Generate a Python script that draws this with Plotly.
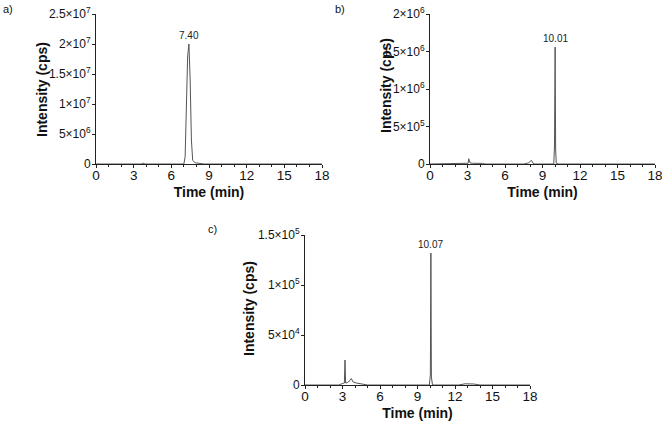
import plotly.graph_objects as go

# ---------------- data ----------------
# panel a
time_a = [0, 3.0, 3.6, 3.75, 3.9, 4.2, 7.0, 7.1, 7.2, 7.3, 7.4, 7.5, 7.6, 7.7, 7.9, 8.3, 8.6, 18]
int_a = [0, 0, 0, 1.5e5, 0, 0, 0, 1.2e6, 9.0e6, 1.8e7, 2.0e7, 1.4e7, 4.0e6, 6.0e5, 2.0e5, 1.0e5, 0, 0]
peak_a = (7.40, 2.0e7, "7.40")

# panel b
time_b = [0, 2.9, 3.05, 3.1, 3.2, 3.4, 3.8, 4.2, 4.4, 7.5, 7.9, 8.1, 8.3, 8.9, 9.05, 9.2, 9.9, 9.96, 10.01, 10.05, 10.1, 10.3, 18]
int_b = [0, 0, 1.0e4, 7.0e4, 1.5e4, 1.0e4, 1.2e4, 8.0e3, 0, 0, 1.5e4, 5.0e4, 0, 0, 1.0e4, 0, 0, 2.4e5, 1.56e6, 2.0e5, 1.0e4, 0, 0]
peak_b = (10.01, 1.56e6, "10.01")

# panel c
time_c = [0, 2.7, 3.0, 3.15, 3.2, 3.25, 3.4, 3.6, 3.7, 3.85, 4.1, 4.6, 5.0, 9.95, 10.03, 10.07, 10.11, 10.2, 12.3, 12.8, 13.5, 14.0, 18]
int_c = [0, 0, 1.5e3, 2.0e3, 2.5e4, 2.0e3, 2.5e3, 4.5e3, 6.5e3, 3.0e3, 2.0e3, 1.0e3, 0, 0, 1.0e4, 1.32e5, 8.0e3, 0, 0, 1.2e3, 1.0e3, 0, 0]
peak_c = (10.07, 1.32e5, "10.07")

x_ticks = [0, 3, 6, 9, 12, 15, 18]
ytick_a = [0, 5e6, 1e7, 1.5e7, 2e7, 2.5e7]
ylab_a = ["0", "5×10<sup>6</sup>", "1×10<sup>7</sup>", "1.5×10<sup>7</sup>", "2×10<sup>7</sup>", "2.5×10<sup>7</sup>"]
ytick_b = [0, 5e5, 1e6, 1.5e6, 2e6]
ylab_b = ["0", "5×10<sup>5</sup>", "1×10<sup>6</sup>", "1.5×10<sup>6</sup>", "2×10<sup>6</sup>"]
ytick_c = [0, 5e4, 1e5, 1.5e5]
ylab_c = ["0", "5×10<sup>4</sup>", "1×10<sup>5</sup>", "1.5×10<sup>5</sup>"]

W, H = 662, 423
FONT = "Liberation Sans, Arial, sans-serif"
LINE = "#555555"

fig = go.Figure()
panels = [
    (time_a, int_a, peak_a, "x", "y"),
    (time_b, int_b, peak_b, "x2", "y2"),
    (time_c, int_c, peak_c, "x3", "y3"),
]
for t, v, pk, xa, ya in panels:
    fig.add_trace(go.Scatter(x=t, y=v, mode="lines", xaxis=xa, yaxis=ya,
                             line=dict(color=LINE, width=1), showlegend=False,
                             hoverinfo="skip"))
    fig.add_annotation(x=pk[0], y=pk[1], xref=xa, yref=ya, text=pk[2],
                       showarrow=False, yanchor="bottom", yshift=1,
                       font=dict(size=10, color="#222", family=FONT))


def px_x(p):
    return p / W


def px_y(p):
    return (H - p) / H


def xaxis(dom, anchor):
    return dict(domain=dom, anchor=anchor, range=[0, 18], tickvals=x_ticks,
                ticks="outside", ticklen=3, tickwidth=1, tickcolor="#222",
                showline=True, linecolor="#222", linewidth=1, showgrid=False,
                zeroline=False, automargin=False, ticklabeloverflow="allow",
                ticklabelstandoff=-4,
                tickfont=dict(size=13.5, family=FONT, color="#111"),
                minor=dict(dtick=1, ticks="outside", ticklen=2, tickcolor="#222", showgrid=False),
                title=dict(text="<b>Time (min)</b>", font=dict(size=14, family=FONT, color="#111"), standoff=4),
                fixedrange=True)


def yaxis(dom, anchor, rng, tv, tt):
    return dict(domain=dom, anchor=anchor, range=rng, tickvals=tv, ticktext=tt,
                ticks="outside", ticklen=3, tickwidth=1, tickcolor="#222",
                showline=True, linecolor="#222", linewidth=1, showgrid=False,
                zeroline=False, automargin=False, ticklabeloverflow="allow",
                ticklabelstandoff=-1,
                tickfont=dict(size=12, family=FONT, color="#111"),
                fixedrange=True)


fig.update_layout(
    width=W, height=H,
    margin=dict(l=0, r=0, t=0, b=0),
    paper_bgcolor="white", plot_bgcolor="white",
    font=dict(family=FONT),
    xaxis=xaxis([px_x(96), px_x(322)], "y"),
    yaxis=yaxis([px_y(164), px_y(14)], "x", [0, 2.5e7], ytick_a, ylab_a),
    xaxis2=xaxis([px_x(430), px_x(655)], "y2"),
    yaxis2=yaxis([px_y(164), px_y(14)], "x2", [0, 2e6], ytick_b, ylab_b),
    xaxis3=xaxis([px_x(305), px_x(530)], "y3"),
    yaxis3=yaxis([px_y(385), px_y(235)], "x3", [0, 1.5e5], ytick_c, ylab_c),
)

# y-axis titles (placed as rotated text)
for x, y in [(42, 90), (386, 86), (249, 308)]:
    fig.add_annotation(x=px_x(x), y=px_y(y), xref="paper", yref="paper",
                       text="<b>Intensity (cps)</b>", textangle=-90, showarrow=False,
                       xanchor="center", yanchor="middle",
                       font=dict(size=14, family=FONT, color="#111"))

for txt, x, y in [("a)", 1, 9), ("b)", 333, 9), ("c)", 206, 229)]:
    fig.add_annotation(x=px_x(x), y=px_y(y), xref="paper", yref="paper", text=txt,
                       showarrow=False, xanchor="left", yanchor="middle",
                       font=dict(size=11, family=FONT, color="#111"))

fig.write_html(
    "out.html",
    config={"displayModeBar": False, "staticPlot": True},
    post_script="document.body.style.margin='0';document.documentElement.style.overflow='hidden';",
)
